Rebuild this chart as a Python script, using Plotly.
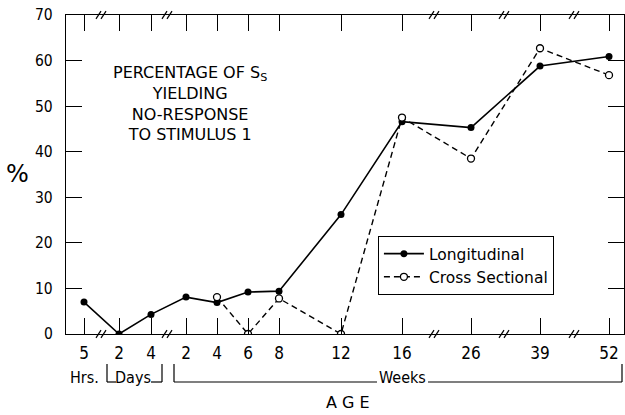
import plotly.graph_objects as go

# ---- data -------------------------------------------------------------
age_labels = ["5", "2", "4", "2", "4", "6", "8", "12", "16", "26", "39", "52"]
# horizontal slot of each age on the broken axis (axis units)
age_slot = [84, 119, 151, 186, 217, 248, 279, 341, 402, 471, 540, 609]

longitudinal = [7.0, 0.0, 4.3, 8.1, 6.9, 9.2, 9.4, 26.2, 46.6, 45.3, 58.8, 60.9]
# cross-sectional starts at 4 weeks
cross_slots_idx = [4, 5, 6, 7, 8, 9, 10, 11]
cross_sectional = [8.1, 0.0, 7.8, 0.0, 47.5, 38.5, 62.7, 56.8]

y_ticks = [0, 10, 20, 30, 40, 50, 60, 70]
break_slots = [101, 167, 434, 504, 574]  # "//" axis breaks

FONT = "DejaVu Sans Condensed, Liberation Sans Narrow, Liberation Sans, sans-serif"
FONT2 = "DejaVu Sans, Liberation Sans, sans-serif"

fig = go.Figure()
fig.add_trace(go.Scatter(
    x=age_slot, y=longitudinal, mode="lines+markers", name="Longitudinal",
    line=dict(color="black", width=1.6),
    marker=dict(symbol="circle", size=7, color="black"),
))
fig.add_trace(go.Scatter(
    x=[age_slot[i] for i in cross_slots_idx], y=cross_sectional,
    mode="lines+markers", name="Cross Sectional",
    line=dict(color="black", width=1.4, dash="6px,4px"),
    marker=dict(symbol="circle", size=7, color="white",
                line=dict(width=1.3, color="black")),
))

X0, X1 = 66, 624
fig.update_layout(
    width=625, height=415,
    margin=dict(l=66, r=1, t=15, b=81),
    paper_bgcolor="white", plot_bgcolor="white",
    showlegend=True,
    legend=dict(x=0.559, y=0.307, xanchor="left", yanchor="top",
                bordercolor="black", borderwidth=1, bgcolor="white",
                font=dict(family=FONT2, size=15.5, color="black"),
                tracegroupgap=0, itemwidth=40),
    font=dict(family=FONT, color="black"),
)
fig.update_xaxes(
    range=[X0, X1], tickvals=age_slot, ticktext=age_labels,
    ticks="inside", ticklen=16, tickwidth=1.3, tickcolor="black",
    showline=True, linecolor="black", linewidth=1.3, mirror="ticks",
    showgrid=False, zeroline=False, ticklabelstandoff=3,
    ticklabeloverflow="allow",
    tickfont=dict(family=FONT, size=17, color="black"),
)
fig.update_yaxes(
    range=[0, 70], tickvals=y_ticks,
    ticks="inside", ticklen=16, tickwidth=1.3, tickcolor="black",
    showline=True, linecolor="black", linewidth=1.3, mirror="ticks",
    showgrid=False, zeroline=False, ticklabelstandoff=9,
    ticklabeloverflow="allow",
    tickfont=dict(family=FONT, size=15.5, color="black"),
)

# axis break marks on bottom and top
shapes = []
for bx in break_slots:
    for yp in (0.0, 1.0):
        for off in (-2.5, 2.5):
            shapes.append(dict(type="line", xref="x", yref="paper",
                               x0=bx + off - 2.5, x1=bx + off + 2.5,
                               y0=yp - 0.012, y1=yp + 0.012,
                               line=dict(color="black", width=1.2)))

# brackets under tick labels (paper coords from plot box)
def py(p):  # page pixel y -> paper
    return (334 - p) / 319

top, bot = py(364), py(382)
br = dict(color="black", width=1.2)
for seg in [(107, top, 107, bot), (107, bot, 116, bot),
            (151, bot, 162, bot), (162, bot, 162, top),
            (174, top, 174, bot), (174, bot, 377, bot),
            (428, bot, 622, bot), (622, bot, 622, top)]:
    shapes.append(dict(type="line", xref="x", yref="paper",
                       x0=seg[0], y0=seg[1], x1=seg[2], y1=seg[3], line=br))
fig.update_layout(shapes=shapes)

ann = []
for txt, xx in (("Hrs.", 84), ("Days", 133), ("Weeks", 402)):
    ann.append(dict(text=txt, x=xx, y=py(377), xref="x", yref="paper",
                    xanchor="center", yanchor="middle",
                    showarrow=False, font=dict(family=FONT, size=16)))
ann.append(dict(text="A G E", x=348, y=py(403), xref="x", yref="paper",
                xanchor="center", yanchor="middle",
                showarrow=False, font=dict(family=FONT2, size=16)))
ann.append(dict(text="%", x=(18 - 66) / 558, y=py(174), xref="paper",
                yref="paper", xanchor="center", yanchor="middle",
                showarrow=False, font=dict(family=FONT2, size=24)))
ann.append(dict(
    text="PERCENTAGE OF S<sub>S</sub><br>YIELDING<br>NO-RESPONSE<br>TO STIMULUS 1",
    x=190, y=60, xref="x", yref="y", xanchor="center", yanchor="top",
    align="center", showarrow=False,
    font=dict(family=FONT2, size=16)))
fig.update_layout(annotations=ann)

fig.write_html("out.html", config={"displayModeBar": False},
               post_script="document.body.style.margin='0px';")
